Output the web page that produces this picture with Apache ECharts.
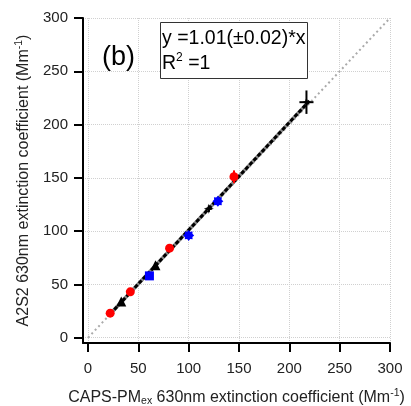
<!DOCTYPE html>
<html><head><meta charset="utf-8">
<script src="https://cdn.jsdelivr.net/npm/echarts@6/dist/echarts.min.js"></script>
<style>html,body{margin:0;padding:0;background:#fff}#c{width:411px;height:406px}</style>
</head><body><div id="c"></div>
<script>
const tickValues = [0, 50, 100, 150, 200, 250, 300];
const redPoints = [[22, 23], [42, 43], [81, 84], [145, 151]];
const redErrX = [1, 1, 2, 4];
const redErrY = [1, 1, 2, 6];
const blackTriangles = [[33, 34], [67, 68]];
const blackStars = [[120, 121], [217, 221]];
const blackErrX = [3, 7];
const blackErrY = [3, 11];
const blueSquares = [[61, 58]];
const blueStars = [[100, 96], [129, 128]];
const blueErrX = [2, 3];
const blueErrY = [2, 3];
const oneToOne = [[0, 0], [300, 300]];
const fitLine = [[22, 22.2], [220, 222.2]];

const FONT = 'Liberation Sans, Arial, sans-serif';
const starPath = 'path://M0,-10 L2.5,-2.5 L10,0 L2.5,2.5 L0,10 L-2.5,2.5 L-10,0 L-2.5,-2.5 Z';
const star8Path = 'path://M0,-10 L2.8,-6.8 L7.1,-7.1 L6.8,-2.8 L10,0 L6.8,2.8 L7.1,7.1 L2.8,6.8 L0,10 L-2.8,6.8 L-7.1,7.1 L-6.8,2.8 L-10,0 L-6.8,-2.8 L-7.1,-7.1 L-2.8,-6.8 Z';

function errSeries(points, ex, ey, color) {
  return {
    type: 'custom', silent: true, z: 3,
    encode: { x: 0, y: 1 },
    data: points.map((p, i) => [p[0], p[1], ex[i], ey[i]]),
    renderItem(params, api) {
      const x = api.value(0), y = api.value(1), dx = api.value(2), dy = api.value(3);
      const a = api.coord([x - dx, y]), b = api.coord([x + dx, y]);
      const c = api.coord([x, y - dy]), d = api.coord([x, y + dy]);
      return { type: 'group', children: [
        { type: 'line', shape: { x1: a[0], y1: a[1], x2: b[0], y2: b[1] }, style: { stroke: color, lineWidth: 2 } },
        { type: 'line', shape: { x1: c[0], y1: c[1], x2: d[0], y2: d[1] }, style: { stroke: color, lineWidth: 2 } }
      ] };
    }
  };
}

function axisCommon() {
  return {
    type: 'value', min: -5, max: 300,
    axisLine: { show: true, onZero: false, lineStyle: { color: '#000', width: 2 } },
    axisTick: { show: true, customValues: tickValues, length: 9, lineStyle: { color: '#000', width: 2 } },
    axisLabel: { customValues: tickValues, color: '#222', fontSize: 15, fontFamily: FONT },
    splitLine: { show: true, lineStyle: { color: '#d0d0d0', type: 'dotted', width: 1 } },
    nameLocation: 'middle',
    nameTextStyle: { color: '#222', fontSize: 16, fontFamily: FONT,
      rich: {
        n: { fontSize: 16, fontFamily: FONT, color: '#222' },
        sub: { fontSize: 10.5, fontFamily: FONT, color: '#222', padding: [7, 0, 0, 0] },
        sup: { fontSize: 10.5, fontFamily: FONT, color: '#222', padding: [0, 0, 9, 0] }
      }
    }
  };
}

const xAxis = Object.assign(axisCommon(), {
  name: '{n|CAPS-PM}{sub|ex}{n| 630nm extinction coefficient (Mm}{sup|-1}{n|)}',
  nameGap: 45
});
xAxis.axisLabel.margin = 18;
const yAxis = Object.assign(axisCommon(), {
  name: '{n|A2S2 630nm extinction coefficient (Mm}{sup|-1}{n|)}',
  nameGap: 47
});
yAxis.axisLabel.margin = 15;

const chart = echarts.init(document.getElementById('c'), null, { renderer: 'canvas' });
chart.setOption({
  animation: false,
  grid: { left: 83, right: 21, top: 18, bottom: 63, containLabel: false, outerBoundsMode: 'none' },
  xAxis: xAxis,
  yAxis: yAxis,
  graphic: [
    { type: 'rect', left: 160, top: 22, shape: { width: 147, height: 56 },
      style: { fill: '#fff', stroke: '#333', lineWidth: 1 }, z: 100 },
    { type: 'text', left: 162, top: 29, z: 101,
      style: { text: 'y =1.01(±0.02)*x', fontSize: 19.5, fontFamily: FONT, fill: '#000' } },
    { type: 'text', left: 162, top: 52, z: 101,
      style: { text: '{a|R}{s|2}{a| =1}', fontFamily: FONT, fill: '#000',
        rich: { a: { fontSize: 19.5, fontFamily: FONT, fill: '#000' },
                s: { fontSize: 12, fontFamily: FONT, fill: '#000', padding: [0, 0, 12, 0] } } } },
    { type: 'text', left: 102, top: 44, z: 101,
      style: { text: '(b)', fontSize: 27, fontFamily: FONT, fill: '#000' } }
  ],
  series: [
    { type: 'line', data: oneToOne, symbol: 'none', silent: true, z: 1,
      lineStyle: { color: '#aaa', width: 2, type: [2, 3] } },
    { type: 'line', data: fitLine, symbol: 'none', silent: true, z: 2,
      lineStyle: { color: '#888', width: 3.5 } },
    { type: 'line', data: fitLine, symbol: 'none', silent: true, z: 2,
      lineStyle: { color: '#000', width: 3, type: [4, 2] } },
    errSeries(redPoints, redErrX, redErrY, '#ff0000'),
    errSeries(blackStars, blackErrX, blackErrY, '#000'),
    errSeries(blueStars, blueErrX, blueErrY, '#0000ff'),
    { type: 'scatter', data: redPoints, symbol: 'circle', symbolSize: 9, z: 4,
      itemStyle: { color: '#ff0000', opacity: 1 } },
    { type: 'scatter', data: blackTriangles, symbol: 'triangle', symbolSize: 10, z: 4,
      itemStyle: { color: '#000', opacity: 1 } },
    { type: 'scatter', data: blackStars, symbol: starPath, symbolSize: 10, z: 4,
      itemStyle: { color: '#000', opacity: 1 } },
    { type: 'scatter', data: blueSquares, symbol: 'rect', symbolSize: 9, z: 4,
      itemStyle: { color: '#0000ff', opacity: 1 } },
    { type: 'scatter', data: blueStars, symbol: star8Path, symbolSize: 11, z: 4,
      itemStyle: { color: '#0000ff', opacity: 1 } }
  ]
});
</script>
</body></html>
